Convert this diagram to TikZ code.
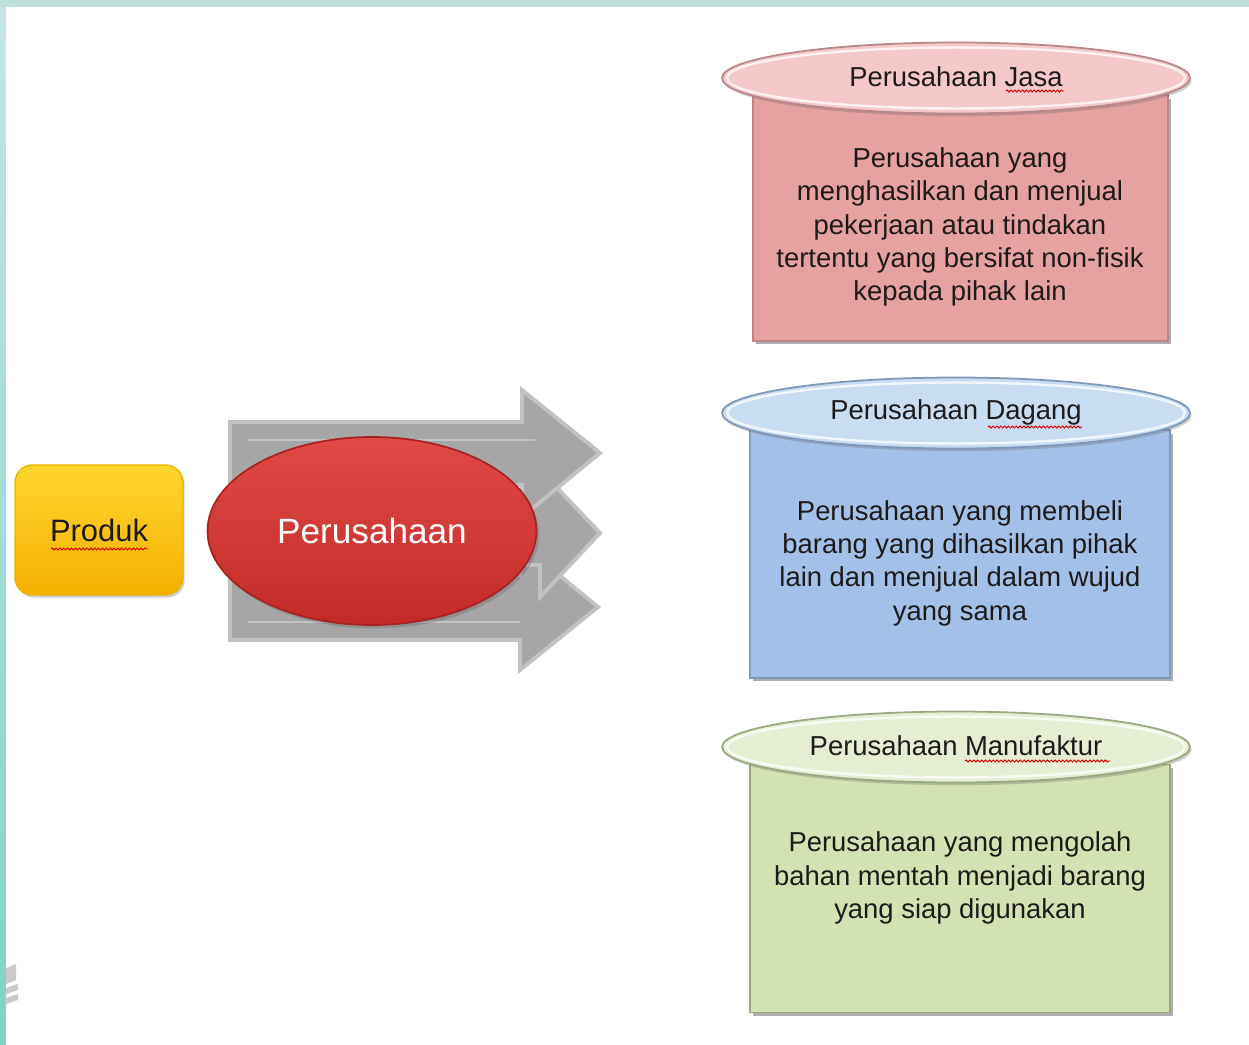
\documentclass[tikz,border=0pt]{standalone}
\usepackage{fontspec}
\setmainfont{Liberation Sans}
\usetikzlibrary{shapes.geometric,shadows,decorations.pathmorphing}
\definecolor{tealA}{HTML}{C5E5E2}
\definecolor{tealB}{HTML}{80D3C2}
\definecolor{tealTop}{HTML}{C0E0DD}
\definecolor{prodTop}{HTML}{FFD52E}
\definecolor{prodBot}{HTML}{F4B000}
\definecolor{prodLine}{HTML}{E8B400}
\definecolor{arrFill}{HTML}{A6A6A6}
\definecolor{arrLine}{HTML}{C2C2C2}
\definecolor{perTop}{HTML}{E24A48}
\definecolor{perBot}{HTML}{C22A28}
\definecolor{perLine}{HTML}{A82222}
\definecolor{jasaBody}{HTML}{E6A2A1}
\definecolor{jasaHead}{HTML}{F5C9C9}
\definecolor{jasaLine}{HTML}{B98787}
\definecolor{dagBody}{HTML}{A3C1E8}
\definecolor{dagHead}{HTML}{C8DCF2}
\definecolor{dagLine}{HTML}{7F97B8}
\definecolor{manBody}{HTML}{D3E2B3}
\definecolor{manHead}{HTML}{E5EED3}
\definecolor{manLine}{HTML}{98A880}
\definecolor{txt}{HTML}{1E1A1A}
\tikzset{
  bodybox/.style={draw=#1, line width=0.8pt, rectangle, minimum width=8.4cm, minimum height=4.96cm, drop shadow={shadow xshift=1.5pt, shadow yshift=-2pt, opacity=0.45, fill=black!70}},
  headell/.style={ellipse, draw=#1, line width=1pt, minimum width=9.36cm, minimum height=1.42cm, inner sep=0pt, drop shadow={shadow xshift=1pt, shadow yshift=-1.5pt, opacity=0.3, fill=black!60}},
  headhl/.style={ellipse, draw=white, line width=1.4pt, opacity=0.75, minimum width=9.16cm, minimum height=1.22cm},
  titletext/.style={text=txt, font=\fontsize{15.6}{18}\selectfont},
  bodytext/.style={align=center, text=txt, font=\fontsize{15.6}{19}\selectfont, inner sep=0pt},
  bigarrow/.style={fill=arrFill, draw=arrLine, line width=2.2pt, line join=miter},
  squiggle/.style={draw=red!85!black, line width=0.55pt, decorate, decoration={snake, amplitude=0.55pt, segment length=2.2pt}}
}
\begin{document}
\begin{tikzpicture}[x=0.02cm,y=-0.02cm]
\useasboundingbox (0,0) rectangle (1249,1045);
% background frame
\shade[top color=tealA, bottom color=tealB] (0,0) rectangle (1249,1045);
\fill[tealTop] (0,0) rectangle (1249,7);
\fill[white] (6,7) rectangle (1249,1045);
% small grey logo fragment
\fill[black!35, opacity=0.6] (6,968) -- (16,964) -- (16,980) -- (6,984) -- cycle;
\fill[black!35, opacity=0.6] (6,988) -- (18,984) -- (18,990) -- (6,994) -- cycle;
\fill[black!35, opacity=0.6] (6,998) -- (18,994) -- (18,1000) -- (6,1004) -- cycle;

% grey arrows
\draw[bigarrow] (230,575) -- (520,575) -- (520,543) -- (598,607) -- (520,670) -- (520,640) -- (230,640) -- cycle;
\draw[bigarrow] (230,501) -- (540,501) -- (540,470) -- (600,533) -- (540,597) -- (540,565) -- (230,565) -- cycle;
\draw[bigarrow] (230,422) -- (522,422) -- (522,390) -- (600,453) -- (522,517) -- (522,485) -- (230,485) -- cycle;
\draw[arrLine, line width=1.5pt] (248,440) -- (535,440);
\draw[arrLine, line width=1.5pt] (248,622) -- (520,622);

% Produk
\node[rectangle, rounded corners=10pt, minimum width=3.36cm, minimum height=2.6cm,
      top color=prodTop, bottom color=prodBot, draw=prodLine, line width=0.8pt,
      drop shadow={shadow xshift=1pt, shadow yshift=-1.5pt, opacity=0.3, fill=black!60},
      text=txt, font=\fontsize{17.6}{20}\selectfont] (produk) at (99,530) {Produk};
\draw[squiggle] (51,549) -- (148,549);

% Perusahaan ellipse
\node[ellipse, minimum width=6.58cm, minimum height=3.76cm, top color=perTop, bottom color=perBot,
      draw=perLine, line width=1pt, text=white, font=\fontsize{20}{23}\selectfont,
      drop shadow={shadow xshift=1.5pt, shadow yshift=-2pt, opacity=0.35, fill=black!60}] (perusahaan) at (372,531) {Perusahaan};

% Jasa
\node[bodybox=jasaLine, fill=jasaBody, minimum width=8.3cm, minimum height=4.92cm] (jasabox) at (960.5,218) {};
\node[headell=jasaLine, fill=jasaHead] (jasahead) at (956,78) {};
\node[headhl] at (956,78) {};
\node[titletext] (jasatitle) at (956,77) {Perusahaan Jasa};
\draw[squiggle] (1006,91) -- (1064,91);
\node[bodytext] (jasatext) at (960,227) {Perusahaan yang\\menghasilkan dan menjual\\pekerjaan atau tindakan\\tertentu yang bersifat non-fisik\\kepada pihak lain};

% Dagang
\node[bodybox=dagLine, fill=dagBody] (dagbox) at (960,554) {};
\node[headell=dagLine, fill=dagHead] (daghead) at (956,413) {};
\node[headhl] at (956,413) {};
\node[titletext] (dagtitle) at (956,412) {Perusahaan Dagang};
\draw[squiggle] (988,427) -- (1082,427);
\node[bodytext] (dagtext) at (960,563) {Perusahaan yang membeli\\barang yang dihasilkan pihak\\lain dan menjual dalam wujud\\yang sama};

% Manufaktur
\node[bodybox=manLine, fill=manBody] (manbox) at (960,888.5) {};
\node[headell=manLine, fill=manHead] (manhead) at (956,747) {};
\node[headhl] at (956,747) {};
\node[titletext] (mantitle) at (956,746) {Perusahaan Manufaktur};
\draw[squiggle] (965,761) -- (1110,761);
\node[bodytext] (mantext) at (960,878) {Perusahaan yang mengolah\\bahan mentah menjadi barang\\yang siap digunakan};
\end{tikzpicture}
\end{document}
